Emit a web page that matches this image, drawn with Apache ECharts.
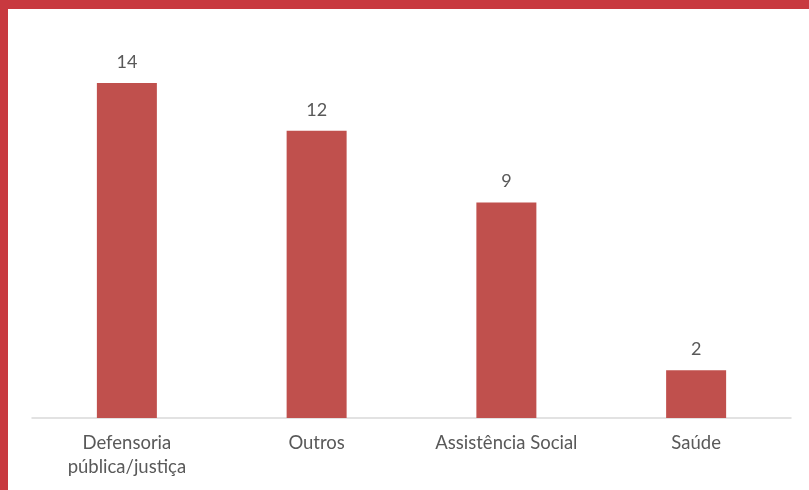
<!DOCTYPE html>
<html>
<head>
<meta charset="utf-8">
<script src="https://cdn.jsdelivr.net/npm/echarts@6/dist/echarts.min.js"></script>
<style>
html,body{margin:0;padding:0;background:#c8393f;width:809px;height:490px;overflow:hidden;}
#chart{position:absolute;left:8px;top:9px;width:801px;height:481px;background:#ffffff;}
</style>
</head>
<body>
<div id="chart"></div>
<script>
const categories = ["Defensoria\npública/justiça", "Outros", "Assistência Social", "Saúde"];
const values = [14, 12, 9, 2];

const chart = echarts.init(document.getElementById('chart'));
chart.setOption({
  animation: false,
  backgroundColor: '#ffffff',
  grid: {left: 24, right: 18, top: 26, bottom: 72},
  xAxis: {
    type: 'category',
    data: categories,
    axisLine: {lineStyle: {color: '#d9d9d9', width: 1.5}},
    axisTick: {show: false},
    axisLabel: {color: '#595959', fontSize: 18.5, fontFamily: 'Lato', lineHeight: 24, margin: 13}
  },
  yAxis: {
    type: 'value',
    min: 0, max: 16, interval: 2,
    show: false
  },
  series: [{
    type: 'bar',
    data: values,
    barWidth: 60,
    itemStyle: {color: '#c0504d'},
    label: {show: true, position: 'top', distance: 12, color: '#595959', fontSize: 18, fontFamily: 'Lato'}
  }]
});
</script>
</body>
</html>
